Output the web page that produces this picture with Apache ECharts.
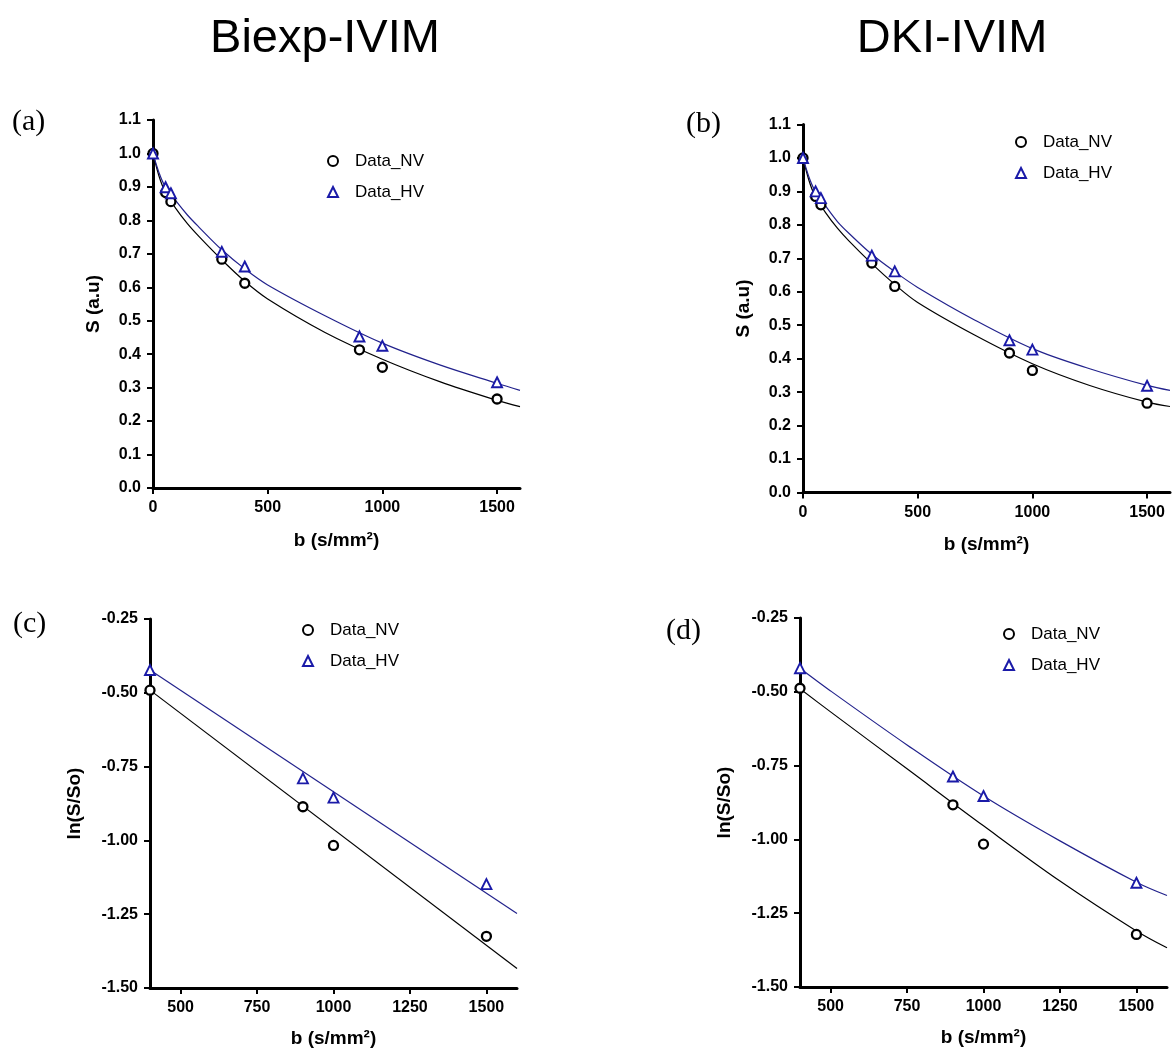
<!DOCTYPE html>
<html>
<head>
<meta charset="utf-8">
<script src="https://cdn.jsdelivr.net/npm/echarts@6/dist/echarts.min.js"></script>
<style>
html,body{margin:0;padding:0;background:#fff;}
#chart{width:1173px;height:1051px;}
</style>
</head>
<body>
<div id="chart"></div>
<script>
// ---- data ----
const bTop = [0, 55, 78, 300, 400, 900, 1000, 1500];
const nvA = [1.0, 0.883, 0.856, 0.684, 0.612, 0.413, 0.361, 0.266];
const hvA = [1.0, 0.899, 0.881, 0.706, 0.662, 0.453, 0.425, 0.316];
const nvB = [1.0, 0.885, 0.860, 0.686, 0.616, 0.417, 0.365, 0.267];
const hvB = [1.0, 0.900, 0.880, 0.708, 0.661, 0.455, 0.427, 0.319];

const bBottom = [400, 900, 1000, 1500];
const nvC = [-0.491, -0.886, -1.017, -1.325];
const hvC = [-0.423, -0.790, -0.855, -1.148];
const nvD = [-0.488, -0.883, -1.016, -1.322];
const hvD = [-0.420, -0.787, -0.853, -1.147];

// fitted curves
const fitBTop = [0, 25, 50, 100, 150, 200, 300, 400, 500, 750, 1000, 1250, 1500, 1600];
const fitNvA = [1.0, 0.935, 0.89, 0.835, 0.79, 0.752, 0.682, 0.618, 0.565, 0.465, 0.385, 0.318, 0.262, 0.243];
const fitHvA = [1.0, 0.945, 0.905, 0.858, 0.816, 0.78, 0.712, 0.655, 0.607, 0.515, 0.433, 0.368, 0.313, 0.292];
const fitNvB = [1.0, 0.935, 0.89, 0.835, 0.79, 0.752, 0.684, 0.622, 0.568, 0.47, 0.385, 0.32, 0.27, 0.257];
const fitHvB = [1.0, 0.945, 0.905, 0.855, 0.81, 0.775, 0.712, 0.66, 0.613, 0.515, 0.43, 0.37, 0.32, 0.305];

const fitBC = [400, 1600];
const fitNvC = [-0.491, -1.434];
const fitHvC = [-0.423, -1.248];
const fitBD = [400, 500, 750, 1000, 1250, 1500, 1600];
const fitNvD = [-0.49, -0.568, -0.761, -0.954, -1.141, -1.31, -1.367];
const fitHvD = [-0.42, -0.497, -0.68, -0.853, -1.005, -1.145, -1.19];

const xTicksTop = [0, 500, 1000, 1500];
const xTicksBottom = [500, 750, 1000, 1250, 1500];

const columnTitles = ['Biexp-IVIM', 'DKI-IVIM'];
const panelLabels = ['(a)', '(b)', '(c)', '(d)'];
const seriesNames = ['Data_NV', 'Data_HV'];
const xName = 'b (s/mm²)';
const yNameTop = 'S (a.u)';
const yNameBottom = 'ln(S/So)';

// ---- styling / layout ----
const SANS = '"Liberation Sans", Arial, sans-serif';
const SERIF = '"Liberation Serif", "Times New Roman", serif';
const BLUE = '#1a1aa8';
const BLUE_LINE = '#22228c';

const grids = [
  {left: 153, top: 120, width: 367, height: 368},
  {left: 803, top: 124.5, width: 367, height: 368},
  {left: 150, top: 619, width: 367, height: 369},
  {left: 800, top: 618, width: 367, height: 369}
];

const zip = (xs, ys) => xs.map((x, i) => [x, ys[i]]);

function xAxisCfg(i, min, max, ticks, nameGap) {
  return {
    type: 'value', gridIndex: i, min: min, max: max,
    name: xName, nameLocation: 'middle', nameGap: nameGap,
    nameTextStyle: {fontFamily: SANS, fontWeight: 'bold', fontSize: 19, color: '#000'},
    axisLine: {show: true, onZero: false, lineStyle: {color: '#000', width: 3}},
    axisTick: {show: true, length: 6, lineStyle: {color: '#000', width: 2}, customValues: ticks},
    axisLabel: {show: true, margin: 12, fontFamily: SANS, fontWeight: 'bold', fontSize: 16, color: '#000',
      customValues: ticks, formatter: v => String(v)},
    splitLine: {show: false}
  };
}
function yAxisCfg(i, min, max, interval, digits, name, nameGap) {
  return {
    type: 'value', gridIndex: i, min: min, max: max, interval: interval,
    name: name, nameLocation: 'middle', nameGap: nameGap,
    nameTextStyle: {fontFamily: SANS, fontWeight: 'bold', fontSize: 19, color: '#000'},
    axisLine: {show: true, onZero: false, lineStyle: {color: '#000', width: 3}},
    axisTick: {show: true, length: 6, lineStyle: {color: '#000', width: 2}},
    axisLabel: {show: true, margin: 12, fontFamily: SANS, fontWeight: 'bold', fontSize: 16, color: '#000',
      formatter: v => v.toFixed(digits)},
    splitLine: {show: false}
  };
}

function panelSeries(i, fitX, fitNv, fitHv, ptX, nv, hv) {
  return [
    {type: 'line', name: 'fit_NV', xAxisIndex: i, yAxisIndex: i, data: zip(fitX, fitNv),
      smooth: 0.35, symbol: 'none', lineStyle: {color: '#000', width: 1.2}, itemStyle: {color: '#000'}, z: 2},
    {type: 'line', name: 'fit_HV', xAxisIndex: i, yAxisIndex: i, data: zip(fitX, fitHv),
      smooth: 0.35, symbol: 'none', lineStyle: {color: BLUE_LINE, width: 1.2}, itemStyle: {color: BLUE_LINE}, z: 2},
    {type: 'scatter', name: seriesNames[0], xAxisIndex: i, yAxisIndex: i, data: zip(ptX, nv),
      symbol: 'circle', symbolSize: 9, itemStyle: {color: '#fff', borderColor: '#000', borderWidth: 2.3, opacity: 1}, z: 3},
    {type: 'scatter', name: seriesNames[1], xAxisIndex: i, yAxisIndex: i, data: zip(ptX, hv),
      symbol: 'triangle', symbolSize: 10, itemStyle: {color: '#fff', borderColor: BLUE, borderWidth: 1.9, opacity: 1}, z: 4}
  ];
}

function legendCfg(left, top) {
  return {
    show: true, orient: 'vertical', left: left, top: top, selectedMode: false,
    itemWidth: 10, itemHeight: 10, itemGap: 11, data: seriesNames,
    textStyle: {fontFamily: SANS, fontSize: 17, lineHeight: 20, color: '#000', padding: [0, 0, 0, 12]}
  };
}

function textEl(text, x, y, font, align) {
  return {type: 'text', x: x, y: y, silent: true,
    style: {text: text, font: font, fill: '#000', textAlign: align, textVerticalAlign: 'top'}};
}

const option = {
  backgroundColor: '#fff',
  animation: false,
  grid: grids.map(g => Object.assign({containLabel: false}, g)),
  xAxis: [
    xAxisCfg(0, 0, 1600, xTicksTop, 43),
    xAxisCfg(1, 0, 1600, xTicksTop, 43),
    xAxisCfg(2, 400, 1600, xTicksBottom, 41),
    xAxisCfg(3, 400, 1600, xTicksBottom, 41)
  ],
  yAxis: [
    yAxisCfg(0, 0, 1.1, 0.1, 1, yNameTop, 50),
    yAxisCfg(1, 0, 1.1, 0.1, 1, yNameTop, 50),
    yAxisCfg(2, -1.5, -0.25, 0.25, 2, yNameBottom, 66),
    yAxisCfg(3, -1.5, -0.25, 0.25, 2, yNameBottom, 66)
  ],
  legend: [
    legendCfg(322, 146),
    legendCfg(1010, 127),
    legendCfg(297, 615),
    legendCfg(998, 619)
  ],
  graphic: {elements: [
    textEl(columnTitles[0], 325, 16, 'normal 47px ' + SANS, 'center'),
    textEl(columnTitles[1], 952, 16, 'normal 47px ' + SANS, 'center'),
    textEl(panelLabels[0], 12, 107, 'normal 30px ' + SERIF, 'left'),
    textEl(panelLabels[1], 686, 109, 'normal 30px ' + SERIF, 'left'),
    textEl(panelLabels[2], 13, 609, 'normal 30px ' + SERIF, 'left'),
    textEl(panelLabels[3], 666, 616, 'normal 30px ' + SERIF, 'left')
  ]},
  series: [].concat(
    panelSeries(0, fitBTop, fitNvA, fitHvA, bTop, nvA, hvA),
    panelSeries(1, fitBTop, fitNvB, fitHvB, bTop, nvB, hvB),
    panelSeries(2, fitBC, fitNvC, fitHvC, bBottom, nvC, hvC),
    panelSeries(3, fitBD, fitNvD, fitHvD, bBottom, nvD, hvD)
  )
};

const chart = echarts.init(document.getElementById('chart'), null, {renderer: 'canvas'});
chart.setOption(option);
</script>
</body>
</html>
